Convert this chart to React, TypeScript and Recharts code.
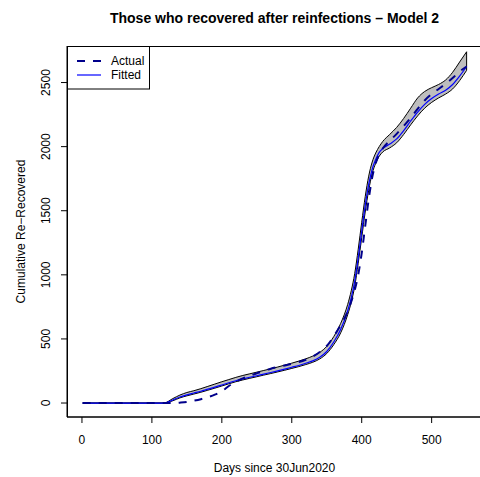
import React from 'react';
import { ComposedChart, Area, Line, XAxis, YAxis, ReferenceLine } from 'recharts';

const days = [1, 20, 40, 60, 80, 100, 117, 130, 140, 150, 160, 170, 180, 190, 200, 210, 220, 230, 240, 250, 260, 270, 280, 290, 300, 310, 320, 330, 340, 350, 360, 370, 380, 385, 390, 395, 400, 405, 410, 415, 420, 425, 430, 440, 450, 460, 470, 480, 490, 500, 510, 520, 530, 540, 550];
const fitted = [0, 0, 0, 0, 0, 0, 0, 24, 47, 64, 78, 92, 108, 124, 141, 158, 174, 188, 201, 213, 226, 238, 251, 265, 279, 293, 310, 329, 357, 402, 476, 575, 720, 820, 950, 1130, 1340, 1540, 1705, 1825, 1900, 1955, 1985, 2020, 2060, 2125, 2200, 2270, 2330, 2375, 2410, 2440, 2485, 2550, 2625];
const lower = [0, 0, 0, 0, 0, 0, 0, 18, 40, 56, 70, 84, 100, 116, 133, 150, 166, 180, 193, 205, 218, 230, 243, 256, 270, 284, 300, 318, 344, 386, 455, 548, 690, 785, 910, 1090, 1290, 1490, 1660, 1790, 1870, 1925, 1958, 1990, 2030, 2095, 2170, 2240, 2300, 2345, 2380, 2410, 2450, 2515, 2595];
const upper = [0, 0, 0, 0, 0, 0, 0, 35, 62, 82, 96, 112, 130, 148, 166, 183, 200, 215, 228, 241, 254, 267, 281, 296, 311, 327, 345, 366, 395, 442, 518, 622, 770, 875, 1010, 1200, 1410, 1610, 1770, 1880, 1950, 2000, 2040, 2095, 2150, 2220, 2300, 2380, 2430, 2460, 2485, 2520, 2580, 2660, 2740];
const actual = [0, 0, 0, 0, 0, 0, 0, 0, 3, 8, 18, 30, 45, 65, 92, 133, 165, 192, 212, 232, 250, 268, 281, 293, 306, 320, 338, 362, 398, 445, 520, 610, 715, 790, 880, 1000, 1170, 1380, 1590, 1760, 1870, 1940, 1985, 2045, 2100, 2160, 2225, 2295, 2360, 2410, 2450, 2490, 2535, 2585, 2625];

const xTicks = [0, 100, 200, 300, 400, 500];
const yTicks = [0, 500, 1000, 1500, 2000, 2500];
const titleText = 'Those who recovered after reinfections – Model 2';
const xTitle = 'Days since 30Jun2020';
const yTitle = 'Cumulative Re−Recovered';
const legendLabels = ['Actual', 'Fitted'];

const data = days.map((d, i) => ({
  day: d,
  fitted: fitted[i],
  lower: lower[i],
  upper: upper[i],
  band: [lower[i], upper[i]],
  actual: actual[i],
}));

const FONT = '"Liberation Sans", Arial, Helvetica, sans-serif';

const XTick = (props: any) => {
  const { x, y, payload } = props;
  return (
    <text x={x} y={y + 8.5} textAnchor="middle" fontSize={12} fill="#000" fontFamily={FONT}>
      {payload.value}
    </text>
  );
};

const YTick = (props: any) => {
  const { x, y, payload } = props;
  return (
    <text x={x} y={y} transform={`rotate(-90 ${x} ${y})`} textAnchor="middle" fontSize={12} fill="#000" fontFamily={FONT}>
      {payload.value}
    </text>
  );
};

export default function App() {
  const last = data[data.length - 1];
  return (
    <div style={{ position: 'absolute', left: 0, top: 0, width: 480, height: 477, overflow: 'hidden', background: '#fff' }}>
      <ComposedChart width={495} height={477} data={data} margin={{ top: 46, right: 13, bottom: 0, left: 0 }}>
        <XAxis
          dataKey="day"
          type="number"
          domain={[-21.4, 572]}
          ticks={xTicks}
          allowDataOverflow
          height={60}
          tickSize={6}
          tickMargin={12.5}
          tickLine={{ stroke: '#000' }}
          axisLine={{ stroke: '#000' }}
          tick={<XTick />}
        />
        <YAxis
          type="number"
          domain={[-109, 2785]}
          ticks={yTicks}
          allowDataOverflow
          width={67}
          tickSize={6}
          tickMargin={11}
          tickLine={{ stroke: '#000' }}
          axisLine={{ stroke: '#000' }}
          tick={<YTick />}
        />
        <Area
          dataKey="band"
          type="monotone"
          fill="#BEBEBE"
          fillOpacity={1}
          stroke="#000"
          strokeWidth={1}
          isAnimationActive={false}
          dot={false}
          activeDot={false}
        />
        <ReferenceLine
          segment={[{ x: last.day, y: last.lower }, { x: last.day, y: last.upper }]}
          stroke="#000"
          strokeWidth={1}
        />
        <Line dataKey="fitted" type="monotone" stroke="#0000FF" strokeWidth={1.2} dot={false} activeDot={false} isAnimationActive={false} />
        <Line dataKey="actual" type="monotone" stroke="#00008B" strokeWidth={2} strokeDasharray="8 8" dot={false} activeDot={false} isAnimationActive={false} />
      </ComposedChart>
      <svg width={480} height={477} style={{ position: 'absolute', left: 0, top: 0, pointerEvents: 'none' }}>
        <rect x={67.5} y={46.5} width={415} height={370.5} fill="none" stroke="#000" strokeWidth={1} />
        <text x={274.5} y={22.5} textAnchor="middle" fontSize={14} fontWeight="bold" fill="#000" fontFamily={FONT}>
          {titleText}
        </text>
        <text x={274.5} y={472} textAnchor="middle" fontSize={12} fill="#000" fontFamily={FONT}>
          {xTitle}
        </text>
        <text x={24.5} y={231.5} transform="rotate(-90 24.5 231.5)" textAnchor="middle" fontSize={12} fill="#000" fontFamily={FONT}>
          {yTitle}
        </text>
        <rect x={67.5} y={46.5} width={82} height={42.5} fill="#fff" stroke="#000" strokeWidth={1} />
        <line x1={77} y1={61} x2={101} y2={61} stroke="#00008B" strokeWidth={2} strokeDasharray="8 8" />
        <line x1={77} y1={75} x2={101} y2={75} stroke="#0000FF" strokeWidth={1.2} />
        <text x={111} y={65.3} fontSize={12} fill="#000" fontFamily={FONT}>{legendLabels[0]}</text>
        <text x={111} y={79.3} fontSize={12} fill="#000" fontFamily={FONT}>{legendLabels[1]}</text>
      </svg>
    </div>
  );
}
